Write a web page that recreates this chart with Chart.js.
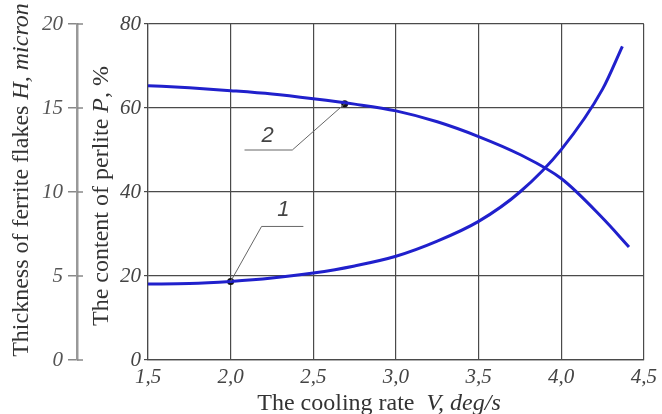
<!DOCTYPE html>
<html>
<head>
<meta charset="utf-8">
<script src="https://cdn.jsdelivr.net/npm/chart.js@4/dist/chart.umd.min.js"></script>
<style>
html,body{margin:0;padding:0;background:#fff;}
#c{display:block;}
</style>
</head>
<body>
<canvas id="c" width="662" height="414"></canvas>
<script>
// ---- data ----
const rateP = [1.5, 1.75, 2.0, 2.25, 2.5, 2.75, 3.0, 3.25, 3.5, 3.75, 4.0, 4.25, 4.37];
const perliteP = [18.1, 18.2, 18.7, 19.5, 20.7, 22.4, 24.7, 28.3, 33.0, 40.0, 50.1, 64.5, 74.7];
const rateH = [1.5, 1.75, 2.0, 2.25, 2.5, 2.75, 3.0, 3.25, 3.5, 3.75, 4.0, 4.25, 4.41];
const thicknessH = [16.33, 16.2, 16.03, 15.83, 15.55, 15.23, 14.83, 14.18, 13.3, 12.23, 10.8, 8.45, 6.73];
const markerP = {x: 2.0, y: 18.7};
const markerH = {x: 2.69, y: 15.25};
const xTicks = [1.5, 2.0, 2.5, 3.0, 3.5, 4.0, 4.5];
const pTicks = [0, 20, 40, 60, 80];
const hTicks = [0, 5, 10, 15, 20];

const BLUE = '#2020cc';
const GRID = '#4a4a4a';
const SERIF = '"Liberation Serif", "Times New Roman", serif';
const fmt = v => v.toFixed(1).replace('.', ',');

function drawMixed(ctx, parts, cx, cy, rot) {
  ctx.save();
  ctx.translate(cx, cy);
  ctx.rotate(rot);
  ctx.textBaseline = 'middle';
  ctx.textAlign = 'left';
  let total = 0;
  parts.forEach(p => { ctx.font = p.font; total += ctx.measureText(p.t).width; });
  let x = -total / 2;
  parts.forEach(p => { ctx.font = p.font; ctx.fillStyle = p.color || '#333'; ctx.fillText(p.t, x, 0); x += ctx.measureText(p.t).width; });
  ctx.restore();
}

const titlesPlugin = {
  id: 'titles',
  afterDraw(chart) {
    const ctx = chart.ctx;
    const R = '24px ' + SERIF, I = 'italic 24px ' + SERIF;
    drawMixed(ctx, [{t: 'The cooling rate  ', font: R}, {t: 'V, deg/s', font: I}], 379, 404, 0);
    drawMixed(ctx, [{t: 'Thickness of ferrite flakes ', font: R}, {t: 'H, micron', font: I}], 22, 180, -Math.PI / 2);
    drawMixed(ctx, [{t: 'The content of perlite ', font: R}, {t: 'P', font: I}, {t: ', %', font: R}], 102, 196, -Math.PI / 2);
    // right half of H axis ticks
    const s = chart.scales.yH;
    ctx.save();
    ctx.strokeStyle = '#888'; ctx.lineWidth = 1.5;
    hTicks.forEach(v => { const y = s.getPixelForValue(v); ctx.beginPath(); ctx.moveTo(s.right, y); ctx.lineTo(s.right + 6, y); ctx.stroke(); });
    ctx.restore();
  }
};

const leaders = [
  {label: '2', pts: [[2.084, 50.0], [2.373, 50.0], [2.69, 61.0]], text: [2.223, 53.4]},
  {label: '1', pts: [[2.0, 18.7], [2.187, 31.8], [2.44, 31.8]], text: [2.319, 35.8]}
];
const leaderPlugin = {
  id: 'leaders',
  afterDatasetsDraw(chart) {
    const ctx = chart.ctx, xs = chart.scales.x, ys = chart.scales.y;
    ctx.save();
    ctx.strokeStyle = '#666'; ctx.lineWidth = 1;
    leaders.forEach(L => {
      ctx.beginPath();
      L.pts.forEach((p, i) => { const px = xs.getPixelForValue(p[0]), py = ys.getPixelForValue(p[1]); i ? ctx.lineTo(px, py) : ctx.moveTo(px, py); });
      ctx.stroke();
      ctx.font = 'italic 22px "Liberation Sans", Arial, sans-serif';
      ctx.fillStyle = '#444'; ctx.textAlign = 'center'; ctx.textBaseline = 'middle';
      ctx.fillText(L.label, xs.getPixelForValue(L.text[0]), ys.getPixelForValue(L.text[1]));
    });
    ctx.restore();
  }
};

new Chart(document.getElementById('c'), {
  type: 'line',
  data: {
    datasets: [
      {data: rateP.map((x, i) => ({x, y: perliteP[i]})), yAxisID: 'y', borderColor: BLUE, borderWidth: 3, pointRadius: 0, cubicInterpolationMode: 'monotone'},
      {data: rateH.map((x, i) => ({x, y: thicknessH[i]})), yAxisID: 'yH', borderColor: BLUE, borderWidth: 3, pointRadius: 0, cubicInterpolationMode: 'monotone'},
      {data: [markerP], yAxisID: 'y', showLine: false, pointRadius: 3.5, pointBackgroundColor: '#111', pointBorderWidth: 0},
      {data: [markerH], yAxisID: 'yH', showLine: false, pointRadius: 3.5, pointBackgroundColor: '#111', pointBorderWidth: 0}
    ]
  },
  options: {
    responsive: false,
    animation: false,
    layout: {padding: {top: 24, right: 2, left: 0, bottom: 0}},
    plugins: {legend: {display: false}, tooltip: {enabled: false}},
    scales: {
      x: {
        type: 'linear', min: 1.5, max: 4.5,
        afterBuildTicks: s => { s.ticks = xTicks.map(v => ({value: v})); },
        ticks: {callback: v => fmt(v), font: {family: SERIF, size: 21, style: 'italic'}, color: '#444', padding: 5, maxRotation: 0},
        grid: {color: GRID, lineWidth: 1.2, drawTicks: false},
        border: {color: GRID, width: 1.2},
        afterFit: s => { s.height = 54; }
      },
      y: {
        position: 'left', min: 0, max: 80, weight: 0,
        afterBuildTicks: s => { s.ticks = pTicks.map(v => ({value: v})); },
        ticks: {font: {family: SERIF, size: 21, style: 'italic'}, color: '#444', padding: 3},
        grid: {color: GRID, lineWidth: 1.2, tickLength: 4},
        border: {color: GRID, width: 1.2},
        afterFit: s => { s.width = 71; }
      },
      yH: {
        position: 'left', min: 0, max: 20, weight: 1,
        afterBuildTicks: s => { s.ticks = hTicks.map(v => ({value: v})); },
        ticks: {font: {family: SERIF, size: 21, style: 'italic'}, color: '#555', padding: 5},
        grid: {drawOnChartArea: false, color: '#888', lineWidth: 1.5, tickLength: 9},
        border: {color: '#999', width: 2.5},
        afterFit: s => { s.width = 77; }
      }
    }
  },
  plugins: [titlesPlugin, leaderPlugin]
});
</script>
</body>
</html>
